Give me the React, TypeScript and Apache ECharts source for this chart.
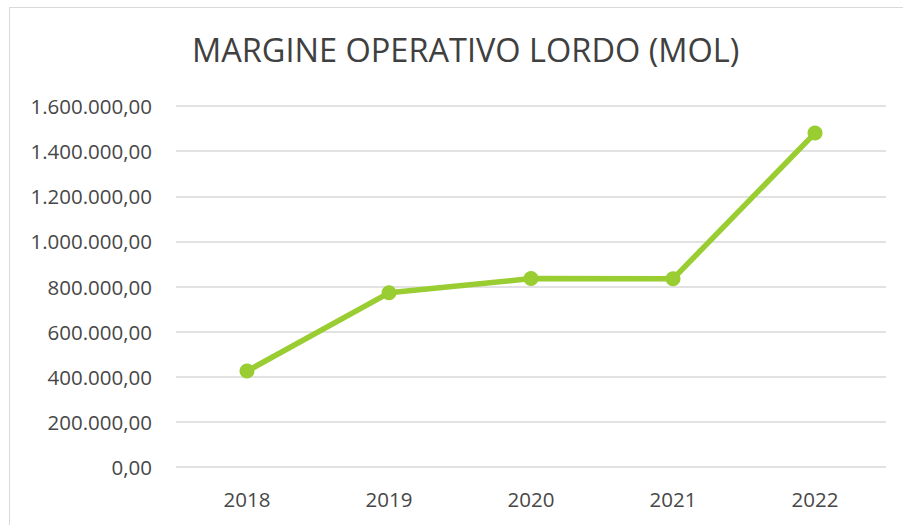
import React, { useEffect, useRef } from "react";
import * as echarts from "echarts";

const years = ["2018", "2019", "2020", "2021", "2022"];
const molValues = [425000, 772000, 835000, 834000, 1480000];
const titleText = "MARGINE OPERATIVO LORDO (MOL)";

function formatIt(v: number): string {
  const s = Math.round(v).toString().replace(/\B(?=(\d{3})+(?!\d))/g, ".");
  return s + ",00";
}

export default function App() {
  const ref = useRef<HTMLDivElement>(null);
  useEffect(() => {
    if (!ref.current) return;
    const chart = echarts.init(ref.current, null, { renderer: "svg" });
    chart.setOption({
      animation: false,
      backgroundColor: "#ffffff",
      title: {
        text: titleText,
        left: 187,
        top: 28,
        textStyle: {
          fontFamily: "Open Sans",
          fontSize: 32.5,
          fontWeight: "normal",
          color: "#404040",
        },
      },
      graphic: [
        {
          type: "rect",
          shape: { x: 9.5, y: 7.5, width: 1000, height: 1000 },
          style: { fill: "none", stroke: "#d9d9d9", lineWidth: 1 },
          silent: true,
        },
      ],
      grid: { left: 176, right: 17, top: 106, bottom: 58, containLabel: false },
      xAxis: {
        type: "category",
        data: years,
        boundaryGap: true,
        axisLine: { show: false },
        axisTick: { show: false },
        axisLabel: {
          margin: 21,
          fontFamily: "Open Sans",
          fontSize: 20.5,
          color: "#474747",
        },
      },
      yAxis: {
        type: "value",
        min: 0,
        max: 1600000,
        interval: 200000,
        axisLine: { show: false },
        axisTick: { show: false },
        splitLine: { lineStyle: { color: "#d9d9d9", width: 1.5 } },
        axisLabel: {
          margin: 24,
          fontFamily: "Open Sans",
          fontSize: 20.5,
          color: "#474747",
          formatter: (v: number) => formatIt(v),
        },
      },
      series: [
        {
          type: "line",
          data: molValues,
          symbol: "circle",
          symbolSize: 15,
          lineStyle: { color: "#9ACD32", width: 5.5 },
          itemStyle: { color: "#9ACD32" },
        },
      ],
    });
    return () => chart.dispose();
  }, []);
  return (
    <div
      ref={ref}
      style={{ position: "fixed", left: 0, top: 0, width: 903, height: 525 }}
    />
  );
}
